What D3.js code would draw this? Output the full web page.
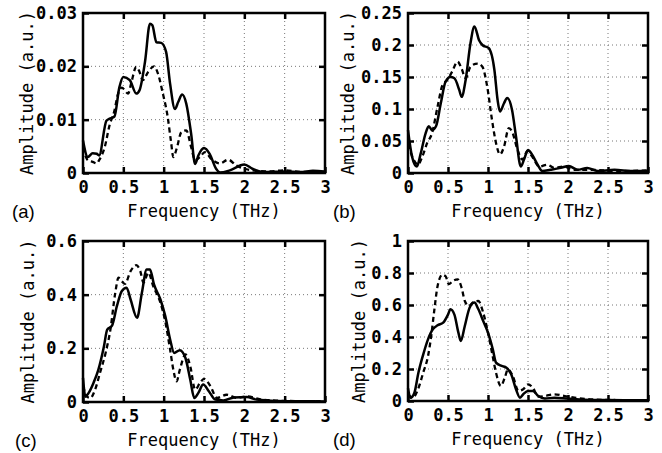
<!DOCTYPE html>
<html>
<head>
<meta charset="utf-8">
<script src="https://cdn.jsdelivr.net/npm/d3@7"></script>
<style>
  body { margin: 0; background: #fff; }
  svg { display: block; }
</style>
</head>
<body>
<div id="chart"></div>
<script>
// [frequency THz, amplitude a.u.]
const aSolid = [[0,0.0061],[0.06,0.003],[0.12,0.0037],[0.17,0.0036],[0.2,0.0033],[0.29,0.0098],[0.33,0.0102],[0.39,0.0106],[0.45,0.016],[0.5,0.018],[0.58,0.0174],[0.66,0.0149],[0.7,0.0155],[0.77,0.021],[0.83,0.028],[0.86,0.0277],[0.91,0.0245],[0.97,0.0244],[1.03,0.0227],[1.08,0.0167],[1.14,0.012],[1.18,0.0133],[1.23,0.0147],[1.28,0.013],[1.34,0.0074],[1.39,0.0017],[1.43,0.0033],[1.5,0.0047],[1.57,0.0036],[1.65,0.0008],[1.7,0.0001],[1.82,0.0005],[2.0,0.0016],[2.1,0.0008],[2.23,0.0002],[2.5,0.0003],[2.7,0.0002],[2.85,0.0004],[3.0,0.0002]];
const aDashed = [[0,0.0048],[0.06,0.0024],[0.12,0.0021],[0.17,0.0018],[0.2,0.0024],[0.27,0.0049],[0.33,0.009],[0.39,0.0117],[0.43,0.0146],[0.48,0.016],[0.56,0.0149],[0.6,0.017],[0.66,0.0199],[0.7,0.019],[0.74,0.0174],[0.81,0.019],[0.88,0.02],[0.93,0.0186],[0.99,0.0149],[1.05,0.0105],[1.09,0.006],[1.12,0.003],[1.16,0.0045],[1.22,0.0077],[1.28,0.008],[1.34,0.0049],[1.39,0.0024],[1.45,0.003],[1.51,0.0039],[1.6,0.0025],[1.7,0.0018],[1.8,0.0025],[1.9,0.0014],[2.0,0.0008],[2.1,0.0005],[2.3,0.0003],[2.5,0.0005],[2.7,0.0002],[3.0,0.0003]];

const bSolid = [[0,0.067],[0.05,0.026],[0.11,0.01],[0.16,0.031],[0.22,0.062],[0.26,0.073],[0.3,0.067],[0.35,0.073],[0.41,0.109],[0.47,0.143],[0.53,0.15],[0.58,0.148],[0.64,0.13],[0.67,0.119],[0.72,0.145],[0.78,0.202],[0.83,0.229],[0.89,0.207],[0.93,0.2],[1.01,0.195],[1.08,0.161],[1.12,0.114],[1.15,0.096],[1.2,0.109],[1.24,0.117],[1.3,0.099],[1.35,0.057],[1.41,0.01],[1.45,0.021],[1.5,0.036],[1.55,0.029],[1.62,0.013],[1.68,0.003],[1.78,0.005],[1.91,0.008],[2.01,0.011],[2.12,0.005],[2.24,0.008],[2.37,0.003],[2.58,0.005],[2.8,0.003],[3.0,0.003]];
const bDashed = [[0,0.045],[0.075,0.02],[0.125,0.013],[0.18,0.026],[0.24,0.047],[0.3,0.062],[0.37,0.104],[0.43,0.137],[0.49,0.145],[0.55,0.158],[0.62,0.174],[0.67,0.163],[0.72,0.148],[0.78,0.166],[0.87,0.171],[0.93,0.166],[0.99,0.135],[1.05,0.083],[1.1,0.047],[1.15,0.029],[1.2,0.041],[1.26,0.07],[1.3,0.065],[1.37,0.036],[1.43,0.021],[1.49,0.034],[1.55,0.026],[1.64,0.01],[1.74,0.013],[1.83,0.008],[1.95,0.01],[2.08,0.005],[2.3,0.005],[2.6,0.003],[3.0,0.004]];

const cSolid = [[0,0.09],[0.03,0.02],[0.07,0.034],[0.13,0.071],[0.19,0.12],[0.26,0.208],[0.3,0.27],[0.36,0.285],[0.42,0.357],[0.48,0.413],[0.54,0.426],[0.59,0.382],[0.67,0.314],[0.73,0.407],[0.79,0.494],[0.83,0.494],[0.88,0.438],[0.96,0.382],[1.02,0.32],[1.08,0.233],[1.13,0.183],[1.2,0.193],[1.27,0.164],[1.33,0.083],[1.38,0.015],[1.43,0.034],[1.49,0.065],[1.56,0.04],[1.64,0.009],[1.74,0.006],[1.87,0.017],[2.03,0.019],[2.15,0.009],[2.4,0.004],[2.7,0.003],[3.0,0.002]];
const cDashed = [[0,0.06],[0.05,0.02],[0.09,0.015],[0.15,0.046],[0.21,0.108],[0.28,0.183],[0.34,0.27],[0.4,0.407],[0.44,0.463],[0.48,0.45],[0.52,0.44],[0.59,0.488],[0.66,0.51],[0.71,0.488],[0.75,0.445],[0.81,0.482],[0.87,0.432],[0.96,0.37],[1.02,0.3],[1.08,0.195],[1.12,0.12],[1.16,0.077],[1.2,0.12],[1.27,0.177],[1.33,0.133],[1.39,0.046],[1.45,0.071],[1.5,0.086],[1.58,0.059],[1.66,0.015],[1.78,0.027],[1.91,0.015],[2.03,0.021],[2.2,0.01],[2.5,0.004],[3.0,0.003]];

const dSolid = [[0,0.08],[0.03,0.02],[0.08,0.052],[0.13,0.177],[0.19,0.29],[0.25,0.385],[0.31,0.448],[0.37,0.473],[0.44,0.49],[0.5,0.54],[0.53,0.573],[0.58,0.54],[0.63,0.427],[0.66,0.375],[0.71,0.469],[0.77,0.583],[0.83,0.615],[0.88,0.573],[0.94,0.5],[1.0,0.427],[1.06,0.323],[1.1,0.24],[1.17,0.219],[1.23,0.208],[1.29,0.167],[1.35,0.073],[1.4,0.021],[1.44,0.042],[1.5,0.063],[1.56,0.063],[1.63,0.031],[1.71,0.015],[1.83,0.021],[2.0,0.015],[2.2,0.008],[2.5,0.006],[3.0,0.005]];
const dDashed = [[0,0.04],[0.06,0.021],[0.125,0.073],[0.19,0.177],[0.25,0.28],[0.29,0.406],[0.33,0.573],[0.37,0.719],[0.43,0.79],[0.47,0.78],[0.51,0.73],[0.56,0.75],[0.62,0.76],[0.67,0.708],[0.71,0.625],[0.76,0.594],[0.81,0.615],[0.88,0.625],[0.94,0.552],[1.0,0.427],[1.05,0.302],[1.1,0.177],[1.16,0.094],[1.21,0.146],[1.25,0.198],[1.31,0.156],[1.38,0.063],[1.44,0.073],[1.5,0.104],[1.56,0.083],[1.63,0.027],[1.71,0.031],[1.83,0.042],[1.96,0.031],[2.08,0.021],[2.3,0.01],[2.6,0.006],[3.0,0.005]];

const xTicks = [0, 0.5, 1, 1.5, 2, 2.5, 3];
const yTicksA = [0, 0.01, 0.02, 0.03];
const yTicksB = [0, 0.05, 0.1, 0.15, 0.2, 0.25];
const yTicksC = [0, 0.2, 0.4, 0.6];
const yTicksD = [0, 0.2, 0.4, 0.6, 0.8, 1];
const panelNames = ["(a)", "(b)", "(c)", "(d)"];

const panels = [
  { left: 83, top: 13, w: 242, h: 160, yTicks: yTicksA, titleX: 33, labelX: 12, solid: aSolid, dashed: aDashed },
  { left: 408, top: 13, w: 240, h: 160, yTicks: yTicksB, titleX: 354, labelX: 333, solid: bSolid, dashed: bDashed },
  { left: 83, top: 241, w: 242, h: 161, yTicks: yTicksC, titleX: 34, labelX: 15, solid: cSolid, dashed: cDashed },
  { left: 408, top: 241, w: 240, h: 160, yTicks: yTicksD, titleX: 365, labelX: 333, solid: dSolid, dashed: dDashed }
];

const svg = d3.select("#chart").append("svg")
  .attr("width", 662)
  .attr("height", 453)
  .attr("viewBox", [0, 0, 662, 453]);

const mono = "'DejaVu Sans Mono', monospace";

panels.forEach((p, i) => {
  const x = d3.scaleLinear().domain([0, 3]).range([p.left, p.left + p.w]);
  const y = d3.scaleLinear().domain([0, d3.max(p.yTicks)]).range([p.top + p.h, p.top]);
  const g = svg.append("g");

  // dotted grid
  g.append("g").selectAll("line")
    .data(xTicks.slice(1, -1))
    .join("line")
    .attr("x1", d => x(d)).attr("x2", d => x(d))
    .attr("y1", p.top).attr("y2", p.top + p.h)
    .attr("stroke", "#777").attr("stroke-width", 1).attr("stroke-dasharray", "1,3");
  g.append("g").selectAll("line")
    .data(p.yTicks.slice(1, -1))
    .join("line")
    .attr("x1", p.left).attr("x2", p.left + p.w)
    .attr("y1", d => y(d)).attr("y2", d => y(d))
    .attr("stroke", "#777").attr("stroke-width", 1).attr("stroke-dasharray", "1,3");

  const line = d3.line()
    .x(d => x(d[0]))
    .y(d => y(d[1]))
    .curve(d3.curveMonotoneX);

  g.append("path")
    .datum(p.dashed)
    .attr("fill", "none")
    .attr("stroke", "#000")
    .attr("stroke-width", 2.3)
    .attr("stroke-dasharray", "5,3.5")
    .attr("d", line);

  g.append("path")
    .datum(p.solid)
    .attr("fill", "none")
    .attr("stroke", "#000")
    .attr("stroke-width", 2.5)
    .attr("d", line);

  // axes with inward ticks on all sides
  const styleAxis = a => {
    a.select(".domain").remove();
    a.selectAll(".tick line").attr("stroke-width", 2.5);
    a.selectAll("text")
      .attr("font-family", mono)
      .attr("font-size", 17)
      .attr("font-weight", "bold")
      .attr("fill", "#000");
  };

  g.append("g")
    .attr("transform", `translate(0,${p.top + p.h})`)
    .call(d3.axisBottom(x).tickValues(xTicks).tickSize(-6).tickPadding(8).tickFormat(d3.format("")))
    .call(styleAxis);
  g.append("g")
    .attr("transform", `translate(0,${p.top})`)
    .call(d3.axisTop(x).tickValues(xTicks.slice(1, -1)).tickSize(-6).tickFormat(""))
    .call(styleAxis);
  g.append("g")
    .attr("transform", `translate(${p.left},0)`)
    .call(d3.axisLeft(y).tickValues(p.yTicks).tickSize(-6).tickPadding(6).tickFormat(d3.format("")))
    .call(styleAxis);
  g.append("g")
    .attr("transform", `translate(${p.left + p.w},0)`)
    .call(d3.axisRight(y).tickValues(p.yTicks.slice(1, -1)).tickSize(-6).tickFormat(""))
    .call(styleAxis);

  g.append("rect")
    .attr("x", p.left).attr("y", p.top)
    .attr("width", p.w).attr("height", p.h)
    .attr("fill", "none")
    .attr("stroke", "#000")
    .attr("stroke-width", 2.5);

  g.append("text")
    .attr("x", p.left + p.w / 2)
    .attr("y", p.top + p.h + 44)
    .attr("text-anchor", "middle")
    .attr("font-family", mono)
    .attr("font-size", 17)
    .text("Frequency (THz)");

  g.append("text")
    .attr("transform", `translate(${p.titleX},${p.top + p.h / 2}) rotate(-90)`)
    .attr("text-anchor", "middle")
    .attr("font-family", mono)
    .attr("font-size", 17)
    .text("Amplitude (a.u.)");

  g.append("text")
    .attr("x", p.labelX)
    .attr("y", p.top + p.h + 45)
    .attr("font-family", "'Liberation Sans', Arial, sans-serif")
    .attr("font-size", 18.5)
    .text(panelNames[i]);
});
</script>
</body>
</html>
